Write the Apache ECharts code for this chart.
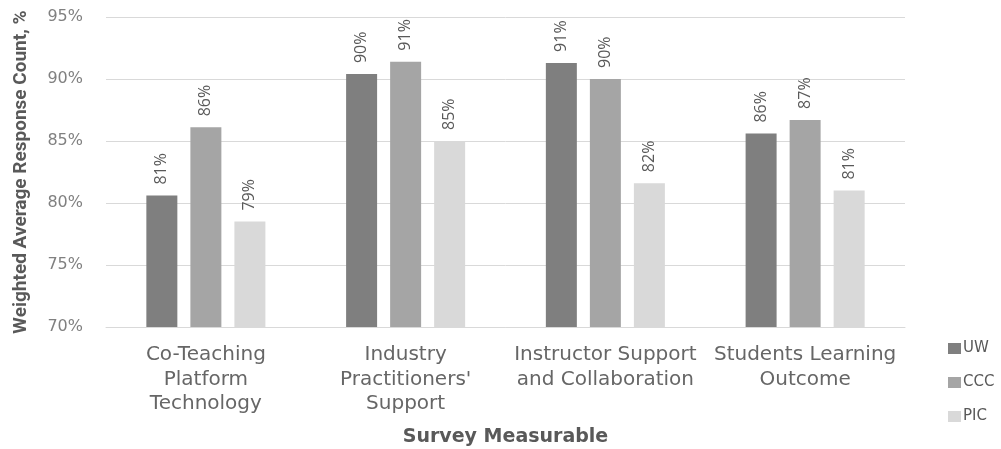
<!DOCTYPE html>
<html>
<head>
<meta charset="utf-8">
<style>
  html, body { margin: 0; padding: 0; background: #ffffff; }
  #chart { width: 1001px; height: 449px; }
</style>
<script src="https://cdn.jsdelivr.net/npm/echarts@6/dist/echarts.min.js"></script>
</head>
<body>
<div id="chart"></div>
<script>
// Survey measurables (x categories)
const categories = [
  'Co-Teaching\nPlatform\nTechnology',
  'Industry\nPractitioners\'\nSupport',
  'Instructor Support\nand Collaboration',
  'Students Learning\nOutcome'
];

// Weighted average response count per institution, %
const uwValues  = [80.6, 90.4, 91.3, 85.6];
const cccValues = [86.1, 91.4, 90.0, 86.7];
const picValues = [78.5, 85.0, 81.6, 81.0];

const seriesNames  = ['UW', 'CCC', 'PIC'];
const seriesColors = ['#7f7f7f', '#a5a5a5', '#d9d9d9'];

// Value axis ticks
const yMin = 70, yMax = 95, yStep = 5;

const chart = echarts.init(document.getElementById('chart'), null, { renderer: 'canvas' });

const barLabel = {
  show: true,
  position: 'top',
  rotate: 90,
  align: 'left',
  verticalAlign: 'middle',
  distance: 11,
  color: '#595959',
  fontFamily: 'Open Sans',
  fontSize: 16,
  formatter: p => Math.round(p.value) + '%'
};

function makeSeries(name, data, color) {
  return {
    name: name,
    type: 'bar',
    data: data,
    barWidth: 31,
    barGap: '42%',
    itemStyle: { color: color },
    label: barLabel,
    emphasis: { disabled: true }
  };
}

chart.setOption({
  animation: false,
  color: seriesColors,
  grid: { left: 106, right: 96, top: 17, bottom: 122, outerBoundsMode: 'none', containLabel: false },
  legend: {
    orient: 'vertical',
    left: 943,
    top: 336,
    icon: 'rect',
    itemWidth: 13,
    itemHeight: 11,
    itemGap: 19,
    textStyle: { color: '#595959', fontFamily: 'DejaVu Sans', fontSize: 15, padding: [0, 0, 0, -3] },
    data: seriesNames
  },
  xAxis: {
    type: 'category',
    data: categories,
    name: 'Survey Measurable',
    nameLocation: 'middle',
    nameGap: 101,
    nameTextStyle: { color: '#595959', fontFamily: 'DejaVu Sans', fontWeight: 'bold', fontSize: 19 },
    axisLine: { show: true, lineStyle: { color: '#d9d9d9', width: 1 } },
    axisTick: { show: false },
    axisLabel: {
      interval: 0,
      margin: 16,
      color: '#666666',
      fontFamily: 'DejaVu Sans',
      fontSize: 20,
      lineHeight: 24.5
    }
  },
  yAxis: {
    type: 'value',
    min: yMin,
    max: yMax,
    interval: yStep,
    name: 'Weighted Average Response Count, %',
    nameLocation: 'middle',
    nameRotate: 90,
    nameGap: 75,
    nameTextStyle: { color: '#595959', fontFamily: 'Liberation Sans Narrow, Roboto, sans-serif', fontWeight: 'bold', fontSize: 19 },
    axisLine: { show: false },
    axisTick: { show: false },
    splitLine: { show: true, lineStyle: { color: '#d9d9d9', width: 1 } },
    axisLabel: {
      margin: 23,
      color: '#808080',
      fontFamily: 'DejaVu Sans',
      fontSize: 16,
      formatter: '{value}%'
    }
  },
  series: [
    makeSeries(seriesNames[0], uwValues,  seriesColors[0]),
    makeSeries(seriesNames[1], cccValues, seriesColors[1]),
    makeSeries(seriesNames[2], picValues, seriesColors[2])
  ]
});
</script>
</body>
</html>
